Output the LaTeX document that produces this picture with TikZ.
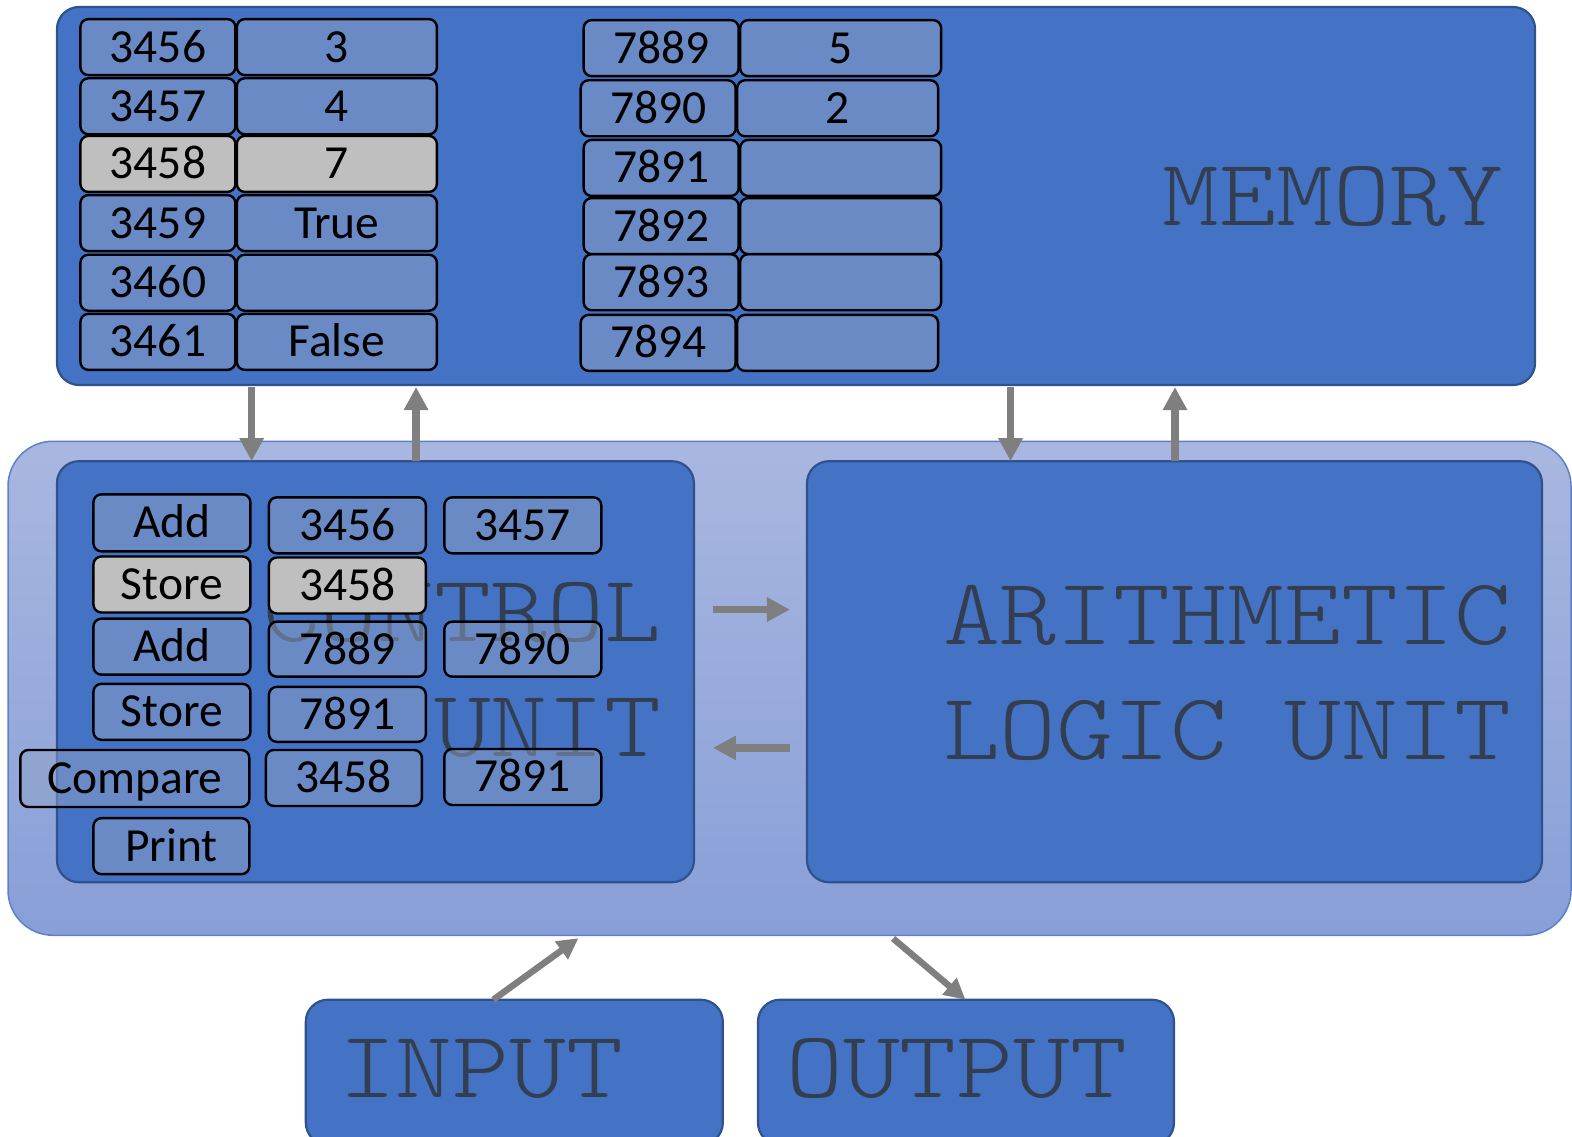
\documentclass[tikz,border=0pt]{standalone}
\usepackage{fontspec}
\setmainfont{Carlito}
\newfontfamily\labelfont[FakeStretch=1.14]{Latin Modern Mono Light}
\usetikzlibrary{arrows.meta,calc}

\definecolor{unitblue}{HTML}{4472C4}
\definecolor{unitedge}{HTML}{2F528F}
\definecolor{cpuTop}{HTML}{A9B7E0}
\definecolor{cpuBot}{HTML}{889FD7}
\definecolor{cpuEdge}{HTML}{5B80CC}
\definecolor{cellfill}{HTML}{90A3C8}
\definecolor{cellgray}{HTML}{BFBFBF}
\definecolor{labelink}{HTML}{333F50}
\definecolor{arrowgray}{HTML}{7F7F7F}

\tikzset{
  unitbox/.style={draw=unitedge, line width=2.2pt, fill=unitblue,
    rounded corners=22pt, inner sep=0pt, outer sep=0pt},
  cpubox/.style={draw=cpuEdge, line width=1.5pt, top color=cpuTop,
    bottom color=cpuBot, rounded corners=45pt, inner sep=0pt, outer sep=0pt},
  cell/.style={draw=black, line width=2.4pt, fill=cellfill, fill opacity=0.5,
    text opacity=1, rounded corners=8pt, inner sep=0pt, outer sep=0pt,
    text height=30pt, text depth=0pt,
    font=\fontsize{47.5}{50}\selectfont},
  graycell/.style={cell, fill=cellgray, fill opacity=1},
  bigtext/.style={text=labelink, inner sep=0pt,
    font=\labelfont\fontsize{95}{110}\selectfont},
  busarrow/.style={draw=arrowgray, line width=7.5pt,
    -{Triangle[width=23pt,length=23pt]}},
  blockarrow/.style={draw=arrowgray, line width=7.5pt,
    -{Triangle[width=23pt,length=23pt]}},
  ioarrow/.style={draw=arrowgray, line width=6.5pt,
    -{Triangle[width=21pt,length=21pt]}},
}

\begin{document}
\begin{tikzpicture}[x=1.00255pt,y=-1.00255pt]
\useasboundingbox (0,0) rectangle (1568,1134);

% ---- main blocks ----
\node[cpubox, minimum width=1563pt, minimum height=494pt] (cpu) at (787.5,686.5) {};
\node[unitbox, minimum width=1478pt, minimum height=378pt] (mem) at (794,195.5) {};
\node[unitbox, minimum width=637pt, minimum height=421pt] (cu) at (374.5,670) {};
\node[unitbox, minimum width=735pt, minimum height=421pt] (alu) at (1171.5,670) {};
\node[unitbox, minimum width=417pt, minimum height=145pt] (inbox) at (513,1069.5) {};
\node[unitbox, minimum width=416pt, minimum height=145pt] (outbox) at (963.5,1069.5) {};

% ---- block labels ----
\node[bigtext, anchor=base east] (memlbl) at (1500,225) {MEMORY};
\node[bigtext, anchor=base east] (culbl1) at (660,640) {CONTROL};
\node[bigtext, anchor=base east] (culbl2) at (660,755) {UNIT};
\node[bigtext, anchor=base east] (alulbl1) at (1508,643) {ARITHMETIC};
\node[bigtext, anchor=base east] (alulbl2) at (1508,758) {LOGIC UNIT};
\node[bigtext, anchor=base west] (inlbl) at (338,1095) {INPUT};
\node[bigtext, anchor=base west] (outlbl) at (784,1095) {OUTPUT};

% ---- memory cells, left bank ----
\foreach \y/\a/\v/\s in {47/3456/3/cell, 106/3457/4/cell, 163.5/3458/7/graycell,
    222.5/3459/True/cell, 282/3460//cell, 341/3461/False/cell}{
  \node[\s, minimum width=155pt, minimum height=56pt] (ma\a) at (157.5,\y) {\a};
  \node[\s, minimum width=200pt, minimum height=56pt] (mv\a) at (336,\y) {\v};
}

% ---- memory cells, right bank ----
\foreach \x/\y/\a/\v in {659.5/48/7889/5, 656.5/108/7890/2, 659.5/167.5/7891/,
    659.5/225.5/7892/, 659.5/281.5/7893/, 656.5/342/7894/}{
  \node[cell, minimum width=155pt, minimum height=56pt] (ma\a) at (\x,\y) {\a};
  \node[cell, minimum width=201pt, minimum height=56pt] (mv\a) at (\x+179,\y) {\v};
}

% ---- program held in the control unit ----
\node[cell, minimum width=157pt, minimum height=57pt] (op1) at (171.5,521.5) {Add};
\node[graycell, minimum width=157pt, minimum height=56pt] (op2) at (171.5,583) {Store};
\node[cell, minimum width=157pt, minimum height=56pt] (op3) at (171.5,645) {Add};
\node[cell, minimum width=157pt, minimum height=56pt] (op4) at (171.5,710) {Store};
\node[cell, minimum width=229pt, minimum height=57pt] (op5) at (134.5,776.5) {Compare};
\node[cell, minimum width=156pt, minimum height=56pt] (op6) at (171,844) {Print};

\node[cell, minimum width=157pt, minimum height=56pt] (arg1a) at (346.5,524) {3456};
\node[graycell, minimum width=157pt, minimum height=56pt] (arg2a) at (346.5,584) {3458};
\node[cell, minimum width=157pt, minimum height=55pt] (arg3a) at (346.5,647.5) {7889};
\node[cell, minimum width=157pt, minimum height=55pt] (arg4a) at (346.5,712.5) {7891};
\node[cell, minimum width=156pt, minimum height=56pt] (arg5a) at (343,776) {3458};

\node[cell, minimum width=157pt, minimum height=56pt] (arg1b) at (521.5,524) {3457};
\node[cell, minimum width=157pt, minimum height=55pt] (arg3b) at (521.5,647.5) {7890};
\node[cell, minimum width=157pt, minimum height=56pt] (arg5b) at (521.5,775) {7891};

% ---- data paths ----
\coordinate (bus1) at (251,0);
\coordinate (bus2) at (415,0);
\coordinate (bus3) at (1008,0);
\coordinate (bus4) at (1172,0);
\coordinate (lane1) at (0,608);
\coordinate (lane2) at (0,746);

\draw[busarrow, shorten <=2pt] (mem.south -| bus1) -- (cu.north -| bus1);
\draw[busarrow, shorten >=2pt] (cu.north -| bus2) -- (mem.south -| bus2);
\draw[busarrow, shorten <=2pt] (mem.south -| bus3) -- (alu.north -| bus3);
\draw[busarrow, shorten >=2pt] (alu.north -| bus4) -- (mem.south -| bus4);

\draw[blockarrow, shorten <=19pt, shorten >=17pt] (cu.east |- lane1) -- (alu.west |- lane1);
\draw[blockarrow, shorten <=17pt, shorten >=19pt] (alu.west |- lane2) -- (cu.east |- lane2);

\coordinate (inTail) at (492,0);
\coordinate (inHead) at (581,0);
\coordinate (outTail) at (887,0);
\coordinate (outHead) at (963,0);
\draw[ioarrow, shorten >=5pt] (inbox.north -| inTail) -- (cpu.south -| inHead);
\draw[ioarrow, shorten <=5pt] (cpu.south -| outTail) -- (outbox.north -| outHead);
\end{tikzpicture}
\end{document}
